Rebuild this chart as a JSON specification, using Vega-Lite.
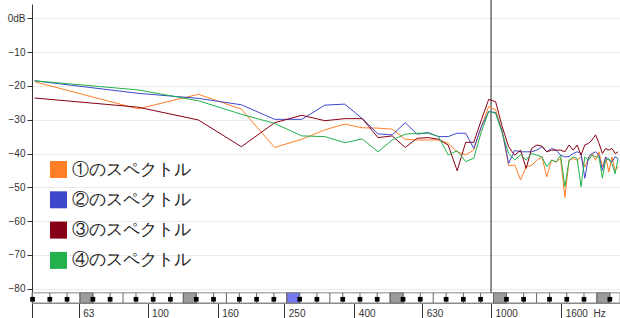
{
  "$schema": "https://vega.github.io/schema/vega-lite/v6.json",
  "width": 588,
  "height": 299,
  "autosize": "none",
  "padding": {"left": 32, "top": 4, "right": 0, "bottom": 15},
  "background": "white",
  "config": {
    "view": {"stroke": null},
    "axis": {"labelFont": "Liberation Sans", "labelFontSize": 10, "labelColor": "#333", "domainColor": "#333", "tickColor": "#333", "title": null},
    "axisY": {"tickSize": 5, "labelPadding": 2, "labelOverlap": false, "grid": true, "gridColor": "#ebebeb", "tickCount": 9}
  },
  "datasets": {
    "spec": [
      {"s":"①のスペクトル","f":46.875,"v":-18.8},{"s":"①のスペクトル","f":93.75,"v":-26.8},{"s":"①のスペクトル","f":140.625,"v":-22.5},{"s":"①のスペクトル","f":187.5,"v":-26.9},{"s":"①のスペクトル","f":234.375,"v":-38.2},{"s":"①のスペクトル","f":281.25,"v":-35.8},{"s":"①のスペクトル","f":328.125,"v":-33.0},{"s":"①のスペクトル","f":375,"v":-31.3},{"s":"①のスペクトル","f":421.875,"v":-32.4},{"s":"①のスペクトル","f":468.75,"v":-32.5},
      {"s":"①のスペクトル","f":515.625,"v":-32.8},{"s":"①のスペクトル","f":562.5,"v":-35.8},{"s":"①のスペクトル","f":609.375,"v":-36.0},{"s":"①のスペクトル","f":656.25,"v":-36.0},{"s":"①のスペクトル","f":703.125,"v":-36.0},{"s":"①のスペクトル","f":750,"v":-37.0},{"s":"①のスペクトル","f":796.875,"v":-39.5},{"s":"①のスペクトル","f":843.75,"v":-40.4},{"s":"①のスペクトル","f":890.625,"v":-39.0},{"s":"①のスペクトル","f":937.5,"v":-32.0},
      {"s":"①のスペクトル","f":984.375,"v":-26.1},{"s":"①のスペクトル","f":1031.25,"v":-27.1},{"s":"①のスペクトル","f":1078.125,"v":-33.5},{"s":"①のスペクトル","f":1125,"v":-43.6},{"s":"①のスペクトル","f":1171.875,"v":-43.4},{"s":"①のスペクトル","f":1218.75,"v":-47.8},{"s":"①のスペクトル","f":1265.625,"v":-43.9},{"s":"①のスペクトル","f":1312.5,"v":-43.5},{"s":"①のスペクトル","f":1359.375,"v":-42.0},{"s":"①のスペクトル","f":1406.25,"v":-41.0},
      {"s":"①のスペクトル","f":1453.125,"v":-46.9},{"s":"①のスペクトル","f":1500,"v":-41.9},{"s":"①のスペクトル","f":1546.875,"v":-42.5},{"s":"①のスペクトル","f":1593.75,"v":-41.5},{"s":"①のスペクトル","f":1640.625,"v":-53.0},{"s":"①のスペクトル","f":1687.5,"v":-42.0},{"s":"①のスペクトル","f":1734.375,"v":-41.5},{"s":"①のスペクトル","f":1781.25,"v":-42.0},{"s":"①のスペクトル","f":1828.125,"v":-41.0},{"s":"①のスペクトル","f":1875,"v":-44.0},
      {"s":"①のスペクトル","f":1921.875,"v":-41.5},{"s":"①のスペクトル","f":1968.75,"v":-40.0},{"s":"①のスペクトル","f":2015.625,"v":-42.0},{"s":"①のスペクトル","f":2062.5,"v":-39.5},{"s":"①のスペクトル","f":2109.375,"v":-44.0},{"s":"①のスペクトル","f":2156.25,"v":-41.0},{"s":"①のスペクトル","f":2203.125,"v":-45.5},{"s":"①のスペクトル","f":2250,"v":-41.0},{"s":"①のスペクトル","f":2296.875,"v":-45.0},{"s":"①のスペクトル","f":2343.75,"v":-44.0},

      {"s":"②のスペクトル","f":46.875,"v":-18.5},{"s":"②のスペクトル","f":93.75,"v":-22.2},{"s":"②のスペクトル","f":140.625,"v":-23.7},{"s":"②のスペクトル","f":187.5,"v":-25.6},{"s":"②のスペクトル","f":234.375,"v":-29.9},{"s":"②のスペクトル","f":281.25,"v":-29.9},{"s":"②のスペクトル","f":328.125,"v":-25.7},{"s":"②のスペクトル","f":375,"v":-25.4},{"s":"②のスペクトル","f":421.875,"v":-29.7},{"s":"②のスペクトル","f":468.75,"v":-34.2},
      {"s":"②のスペクトル","f":515.625,"v":-34.5},{"s":"②のスペクトル","f":562.5,"v":-30.9},{"s":"②のスペクトル","f":609.375,"v":-34.3},{"s":"②のスペクトル","f":656.25,"v":-33.8},{"s":"②のスペクトル","f":703.125,"v":-35.0},{"s":"②のスペクトル","f":750,"v":-35.0},{"s":"②のスペクトル","f":796.875,"v":-34.0},{"s":"②のスペクトル","f":843.75,"v":-34.0},{"s":"②のスペクトル","f":890.625,"v":-38.5},{"s":"②のスペクトル","f":937.5,"v":-32.0},
      {"s":"②のスペクトル","f":984.375,"v":-27.6},{"s":"②のスペクトル","f":1031.25,"v":-27.9},{"s":"②のスペクトル","f":1078.125,"v":-33.5},{"s":"②のスペクトル","f":1125,"v":-42.9},{"s":"②のスペクトル","f":1171.875,"v":-39.1},{"s":"②のスペクトル","f":1218.75,"v":-39.5},{"s":"②のスペクトル","f":1265.625,"v":-39.5},{"s":"②のスペクトル","f":1312.5,"v":-39.5},{"s":"②のスペクトル","f":1359.375,"v":-39.0},{"s":"②のスペクトル","f":1406.25,"v":-38.0},
      {"s":"②のスペクトル","f":1453.125,"v":-39.5},{"s":"②のスペクトル","f":1500,"v":-38.5},{"s":"②のスペクトル","f":1546.875,"v":-39.0},{"s":"②のスペクトル","f":1593.75,"v":-40.5},{"s":"②のスペクトル","f":1640.625,"v":-41.0},{"s":"②のスペクトル","f":1687.5,"v":-40.9},{"s":"②のスペクトル","f":1734.375,"v":-40.0},{"s":"②のスペクトル","f":1781.25,"v":-39.5},{"s":"②のスペクトル","f":1828.125,"v":-40.0},{"s":"②のスペクトル","f":1875,"v":-47.3},
      {"s":"②のスペクトル","f":1921.875,"v":-41.0},{"s":"②のスペクトル","f":1968.75,"v":-40.0},{"s":"②のスペクトル","f":2015.625,"v":-39.5},{"s":"②のスペクトル","f":2062.5,"v":-40.5},{"s":"②のスペクトル","f":2109.375,"v":-45.0},{"s":"②のスペクトル","f":2156.25,"v":-41.0},{"s":"②のスペクトル","f":2203.125,"v":-42.0},{"s":"②のスペクトル","f":2250,"v":-42.5},{"s":"②のスペクトル","f":2296.875,"v":-41.0},{"s":"②のスペクトル","f":2343.75,"v":-41.5},

      {"s":"③のスペクトル","f":46.875,"v":-23.6},{"s":"③のスペクトル","f":93.75,"v":-26.3},{"s":"③のスペクトル","f":140.625,"v":-30.1},{"s":"③のスペクトル","f":187.5,"v":-38.0},{"s":"③のスペクトル","f":234.375,"v":-30.9},{"s":"③のスペクトル","f":281.25,"v":-28.7},{"s":"③のスペクトル","f":328.125,"v":-30.3},{"s":"③のスペクトル","f":375,"v":-29.7},{"s":"③のスペクトル","f":421.875,"v":-29.7},{"s":"③のスペクトル","f":468.75,"v":-35.3},
      {"s":"③のスペクトル","f":515.625,"v":-34.8},{"s":"③のスペクトル","f":562.5,"v":-38.2},{"s":"③のスペクトル","f":609.375,"v":-35.5},{"s":"③のスペクトル","f":656.25,"v":-35.3},{"s":"③のスペクトル","f":703.125,"v":-35.8},{"s":"③のスペクトル","f":750,"v":-37.5},{"s":"③のスペクトル","f":796.875,"v":-45.1},{"s":"③のスペクトル","f":843.75,"v":-36.7},{"s":"③のスペクトル","f":890.625,"v":-36.7},{"s":"③のスペクトル","f":937.5,"v":-30.0},
      {"s":"③のスペクトル","f":984.375,"v":-24.0},{"s":"③のスペクトル","f":1031.25,"v":-24.7},{"s":"③のスペクトル","f":1078.125,"v":-32.1},{"s":"③のスペクトル","f":1125,"v":-38.0},{"s":"③のスペクトル","f":1171.875,"v":-40.5},{"s":"③のスペクトル","f":1218.75,"v":-39.0},{"s":"③のスペクトル","f":1265.625,"v":-44.4},{"s":"③のスペクトル","f":1312.5,"v":-38.5},{"s":"③のスペクトル","f":1359.375,"v":-37.5},{"s":"③のスペクトル","f":1406.25,"v":-37.8},
      {"s":"③のスペクトル","f":1453.125,"v":-39.5},{"s":"③のスペクトル","f":1500,"v":-39.0},{"s":"③のスペクトル","f":1546.875,"v":-39.0},{"s":"③のスペクトル","f":1593.75,"v":-39.0},{"s":"③のスペクトル","f":1640.625,"v":-39.5},{"s":"③のスペクトル","f":1687.5,"v":-37.5},{"s":"③のスペクトル","f":1734.375,"v":-39.0},{"s":"③のスペクトル","f":1781.25,"v":-37.5},{"s":"③のスペクトル","f":1828.125,"v":-40.5},{"s":"③のスペクトル","f":1875,"v":-37.5},
      {"s":"③のスペクトル","f":1921.875,"v":-37.0},{"s":"③のスペクトル","f":1968.75,"v":-36.0},{"s":"③のスペクトル","f":2015.625,"v":-34.5},{"s":"③のスペクトル","f":2062.5,"v":-37.0},{"s":"③のスペクトル","f":2109.375,"v":-40.0},{"s":"③のスペクトル","f":2156.25,"v":-38.5},{"s":"③のスペクトル","f":2203.125,"v":-39.0},{"s":"③のスペクトル","f":2250,"v":-38.5},{"s":"③のスペクトル","f":2296.875,"v":-40.0},{"s":"③のスペクトル","f":2343.75,"v":-39.5},

      {"s":"④のスペクトル","f":46.875,"v":-18.5},{"s":"④のスペクトル","f":93.75,"v":-21.2},{"s":"④のスペクトル","f":140.625,"v":-24.4},{"s":"④のスペクトル","f":187.5,"v":-28.4},{"s":"④のスペクトル","f":234.375,"v":-31.1},{"s":"④のスペクトル","f":281.25,"v":-34.8},{"s":"④のスペクトル","f":328.125,"v":-35.0},{"s":"④のスペクトル","f":375,"v":-36.8},{"s":"④のスペクトル","f":421.875,"v":-35.7},{"s":"④のスペクトル","f":468.75,"v":-39.5},
      {"s":"④のスペクトル","f":515.625,"v":-36.0},{"s":"④のスペクトル","f":562.5,"v":-34.3},{"s":"④のスペクトル","f":609.375,"v":-34.0},{"s":"④のスペクトル","f":656.25,"v":-34.0},{"s":"④のスペクトル","f":703.125,"v":-35.0},{"s":"④のスペクトル","f":750,"v":-40.4},{"s":"④のスペクトル","f":796.875,"v":-39.2},{"s":"④のスペクトル","f":843.75,"v":-42.4},{"s":"④のスペクトル","f":890.625,"v":-41.4},{"s":"④のスペクトル","f":937.5,"v":-33.5},
      {"s":"④のスペクトル","f":984.375,"v":-27.6},{"s":"④のスペクトル","f":1031.25,"v":-28.1},{"s":"④のスペクトル","f":1078.125,"v":-34.0},{"s":"④のスペクトル","f":1125,"v":-40.0},{"s":"④のスペクトル","f":1171.875,"v":-41.9},{"s":"④のスペクトル","f":1218.75,"v":-40.4},{"s":"④のスペクトル","f":1265.625,"v":-41.9},{"s":"④のスペクトル","f":1312.5,"v":-40.0},{"s":"④のスペクトル","f":1359.375,"v":-40.5},{"s":"④のスペクトル","f":1406.25,"v":-41.0},
      {"s":"④のスペクトル","f":1453.125,"v":-43.9},{"s":"④のスペクトル","f":1500,"v":-42.0},{"s":"④のスペクトル","f":1546.875,"v":-42.5},{"s":"④のスペクトル","f":1593.75,"v":-40.5},{"s":"④のスペクトル","f":1640.625,"v":-49.8},{"s":"④のスペクトル","f":1687.5,"v":-42.0},{"s":"④のスペクトル","f":1734.375,"v":-41.0},{"s":"④のスペクトル","f":1781.25,"v":-41.5},{"s":"④のスペクトル","f":1828.125,"v":-49.8},{"s":"④のスペクトル","f":1875,"v":-41.0},
      {"s":"④のスペクトル","f":1921.875,"v":-42.0},{"s":"④のスペクトル","f":1968.75,"v":-40.5},{"s":"④のスペクトル","f":2015.625,"v":-41.0},{"s":"④のスペクトル","f":2062.5,"v":-41.0},{"s":"④のスペクトル","f":2109.375,"v":-47.3},{"s":"④のスペクトル","f":2156.25,"v":-42.0},{"s":"④のスペクトル","f":2203.125,"v":-41.5},{"s":"④のスペクトル","f":2250,"v":-43.0},{"s":"④のスペクトル","f":2296.875,"v":-46.0},{"s":"④のスペクトル","f":2343.75,"v":-41.5}
    ],
    "bounds": [
      {"f":46.25,"k":"black"},{"f":51.91,"k":"black"},{"f":58.27,"k":"black"},{"f":63.55,"k":"plain"},
      {"f":69.30,"k":"black"},{"f":77.78,"k":"black"},{"f":84.82,"k":"plain"},{"f":92.50,"k":"black"},{"f":103.83,"k":"black"},{"f":116.54,"k":"black"},{"f":127.09,"k":"plain"},
      {"f":138.59,"k":"black"},{"f":155.56,"k":"black"},{"f":169.64,"k":"plain"},{"f":185.00,"k":"black"},{"f":207.65,"k":"black"},{"f":233.08,"k":"black"},{"f":254.18,"k":"plain"},
      {"f":277.18,"k":"black"},{"f":311.13,"k":"black"},{"f":339.29,"k":"plain"},{"f":369.99,"k":"black"},{"f":415.30,"k":"black"},{"f":466.16,"k":"black"},{"f":508.36,"k":"plain"},
      {"f":554.37,"k":"black"},{"f":622.25,"k":"black"},{"f":678.57,"k":"plain"},{"f":739.99,"k":"black"},{"f":830.61,"k":"black"},{"f":932.33,"k":"black"},{"f":1016.71,"k":"plain"},
      {"f":1108.73,"k":"black"},{"f":1244.51,"k":"black"},{"f":1357.14,"k":"plain"},{"f":1479.98,"k":"black"},{"f":1661.22,"k":"black"},{"f":1864.66,"k":"black"},{"f":2033.42,"k":"plain"},
      {"f":2217.46,"k":"black"}
    ],
    "ckeys": [
      {"f1":63.55,"f2":69.30,"k":"gray"},{"f1":127.09,"f2":138.59,"k":"gray"},{"f1":254.18,"f2":277.18,"k":"blue"},
      {"f1":508.36,"f2":554.37,"k":"gray"},{"f1":1016.71,"f2":1108.73,"k":"gray"},{"f1":2033.42,"f2":2217.46,"k":"gray"}
    ]
  },
  "layer": [
    {
      "data": {"values": [{}]},
      "mark": {"type": "rect", "fill": "white", "stroke": "#8a8a8a", "strokeWidth": 1},
      "encoding": {
        "x": {"datum": 46.07, "type": "quantitative", "scale": {"type": "log", "domain": [46.07, 2374], "nice": false},
          "axis": {"values": [46.07, 63, 100, 160, 250, 400, 630, 1000, 1600, 1930], "tickSize": 15, "labelAlign": "left", "labelBaseline": "middle", "labelPadding": -5, "labelOffset": 4, "labelOverlap": false, "labelFlush": false, "domainColor": "#8a8a8a",
            "labelExpr": "datum.value > 1900 ? 'Hz' : (datum.value < 50 ? '' : format(datum.value, 'd'))",
            "tickColor": {"condition": {"test": "datum.value > 1900", "value": "transparent"}, "value": "#333"}, "grid": false}},
        "x2": {"datum": 2374},
        "y": {"datum": -81.2, "type": "quantitative", "scale": {"domain": [-84.2, 4.2], "nice": false, "zero": false},
          "axis": {"values": [-80, -70, -60, -50, -40, -30, -20, -10, 0], "labelExpr": "datum.value == 0 ? '0dB' : datum.label"}},
        "y2": {"datum": -84.2}
      }
    },
    {
      "data": {"name": "ckeys"},
      "mark": {"type": "rect", "stroke": "#777", "strokeWidth": 1},
      "encoding": {
        "x": {"field": "f1", "type": "quantitative", "scale": {"type": "log", "domain": [46.07, 2374], "nice": false}},
        "x2": {"field": "f2"},
        "y": {"datum": -81.2, "type": "quantitative", "axis": {"values": [-80, -70, -60, -50, -40, -30, -20, -10, 0], "labelExpr": "datum.value == 0 ? '0dB' : datum.label"}},
        "y2": {"datum": -84.2},
        "fill": {"field": "k", "type": "nominal", "scale": {"domain": ["gray", "blue"], "range": ["#9c9c9c", "#7878f2"]}, "legend": null}
      }
    },
    {
      "data": {"name": "bounds"},
      "mark": {"type": "rule", "color": "#666", "strokeWidth": 1},
      "encoding": {
        "x": {"field": "f", "type": "quantitative", "scale": {"type": "log", "domain": [46.07, 2374], "nice": false}},
        "y": {"datum": -81.2, "type": "quantitative", "axis": {"values": [-80, -70, -60, -50, -40, -30, -20, -10, 0], "labelExpr": "datum.value == 0 ? '0dB' : datum.label"}},
        "y2": {"datum": -84.2}
      }
    },
    {
      "data": {"name": "bounds"},
      "transform": [{"filter": "datum.k == 'black'"}],
      "mark": {"type": "square", "color": "black", "filled": true, "opacity": 1, "size": 22},
      "encoding": {
        "x": {"field": "f", "type": "quantitative", "scale": {"type": "log", "domain": [46.07, 2374], "nice": false}},
        "y": {"datum": -83.1, "type": "quantitative", "axis": {"values": [-80, -70, -60, -50, -40, -30, -20, -10, 0], "labelExpr": "datum.value == 0 ? '0dB' : datum.label"}}
      }
    },
    {
      "data": {"values": [{}]},
      "mark": {"type": "rule", "color": "#222", "strokeWidth": 1},
      "encoding": {
        "x": {"datum": 1000, "type": "quantitative"},
        "y": {"datum": -81.2, "type": "quantitative", "axis": {"values": [-80, -70, -60, -50, -40, -30, -20, -10, 0], "labelExpr": "datum.value == 0 ? '0dB' : datum.label"}},
        "y2": {"datum": 5.5}
      }
    },
    {
      "data": {"name": "spec"},
      "mark": {"type": "line", "strokeWidth": 1},
      "encoding": {
        "x": {"field": "f", "type": "quantitative", "scale": {"type": "log", "domain": [46.07, 2374], "nice": false}},
        "y": {"field": "v", "type": "quantitative", "scale": {"domain": [-84.2, 4.2], "nice": false, "zero": false},
          "axis": {"values": [-80, -70, -60, -50, -40, -30, -20, -10, 0], "labelExpr": "datum.value == 0 ? '0dB' : datum.label"}},
        "color": {"field": "s", "type": "nominal",
          "scale": {"domain": ["①のスペクトル", "②のスペクトル", "③のスペクトル", "④のスペクトル"], "range": ["#FF7F27", "#3F48CC", "#880015", "#22B14C"]},
          "legend": {"orient": "none", "legendX": 18, "legendY": 157, "title": null, "padding": 0, "symbolType": "square", "symbolSize": 289, "symbolStrokeWidth": 0, "labelFontSize": 17, "labelFont": "serif", "labelColor": "#222", "rowPadding": 12.3, "labelOffset": 5,
            "encode": {"symbols": {"update": {"fill": {"scale": "color", "field": "value"}, "fillOpacity": {"value": 1}, "opacity": {"value": 1}}}}}}
      }
    }
  ]
}
